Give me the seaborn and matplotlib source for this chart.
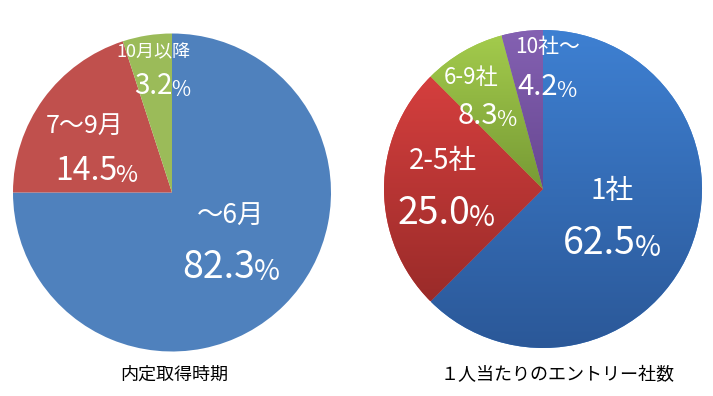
import numpy as np
import matplotlib
matplotlib.use("Agg")
import matplotlib.pyplot as plt
import seaborn as sns
from matplotlib.colors import LinearSegmentedColormap

# Daten: linkes Diagramm (Zeitpunkt der Zusage)
left_cats = ["～6月", "7～9月", "10月以降"]
left_sizes = [75, 20, 5]          # Segmentgrößen wie im Bild gezeichnet
left_pct = ["82.3", "14.5", "3.2"]
left_title = "内定取得時期"

# Daten: rechtes Diagramm (Bewerbungen pro Person)
right_cats = ["1社", "2-5社", "6-9社", "10社～"]
right_sizes = [62.5, 25.0, 8.3, 4.2]
right_pct = ["62.5", "25.0", "8.3", "4.2"]
right_title = "１人当たりのエントリー社数"

# Farben
left_colors = ["#4f81bd", "#c0504d", "#9bbb59"]
right_top = ["#3e80d2", "#d53f3e", "#a3cb4c", "#8461b2"]
right_bottom = ["#2b5898", "#9a2b29", "#779a35", "#674791"]

sns.set_theme(style="white")
plt.rcParams["font.family"] = ["Noto Sans CJK JP", "DejaVu Sans"]

W, H = 713, 396
R_PX = 159
LIM = 1.02

fig = plt.figure(figsize=(W / 100, H / 100), dpi=100)
fig.patch.set_facecolor("white")


def pie_axes(cx, cy):
    size = 2 * LIM * R_PX
    return fig.add_axes([(cx - size / 2) / W, (H - cy - size / 2) / H, size / W, size / H])


def to_data(px, py, cx, cy):
    return (px - cx) / R_PX, (cy - py) / R_PX


def put_labels(ax, cats, pcts, positions, cx, cy):
    # positions: (Kategorie-Mitte, rechte Kante der Zahl, Größe Kat, Größe Zahl)
    for cat, pct, (cpos, ppos, cs, ps) in zip(cats, pcts, positions):
        ax.text(*to_data(*cpos, cx, cy), cat, color="white", fontsize=cs,
                ha="center", va="center", zorder=5)
        t = ax.text(*to_data(*ppos, cx, cy), pct, color="white", fontsize=ps,
                    ha="right", va="center", zorder=5)
        ax.annotate("%", xy=(1.0, 0.0), xycoords=t, xytext=(-1, 0),
                    textcoords="offset points", color="white", fontsize=ps * 0.75,
                    ha="left", va="bottom", zorder=5)


# Linker Kreis
lcx, lcy = 172, 192.5
axL = pie_axes(lcx, lcy)
axL.pie(left_sizes, colors=left_colors, startangle=90, counterclock=False,
        wedgeprops=dict(linewidth=0))
axL.set_xlim(-LIM, LIM)
axL.set_ylim(-LIM, LIM)

left_label_pos = [((231, 216), (255, 267), 19, 27),
                  ((85, 126), (117, 171), 18, 23),
                  ((153, 52), (173, 86), 13, 20)]
put_labels(axL, left_cats, left_pct, left_label_pos, lcx, lcy)

# Rechter Kreis mit Verlauf
rcx, rcy = 543, 189
axR = pie_axes(rcx, rcy)
wedges, _ = axR.pie(right_sizes, colors=right_top, startangle=90, counterclock=False,
                    wedgeprops=dict(linewidth=0))

grad = np.linspace(0, 1, 256).reshape(-1, 1)
for w, top, bot in zip(wedges, right_top, right_bottom):
    ext = w.get_path().get_extents()
    cmap = LinearSegmentedColormap.from_list("g", [top, bot])
    im = axR.imshow(grad, cmap=cmap, aspect="auto",
                    extent=[ext.x0, ext.x1, ext.y0, ext.y1], origin="upper",
                    zorder=w.get_zorder() + 0.1)
    im.set_clip_path(w)
axR.set_xlim(-LIM, LIM)
axR.set_ylim(-LIM, LIM)

right_label_pos = [((612, 191), (636, 244), 20, 27),
                   ((443, 161), (470, 213), 20, 27),
                   ((471, 77), (498, 116), 16, 21),
                   ((548, 47), (558, 87), 15, 21)]
put_labels(axR, right_cats, right_pct, right_label_pos, rcx, rcy)

# Titel unter den Kreisen
fig.text(174 / W, 1 - 375 / H, left_title, fontsize=13, ha="center", va="center", color="black")
fig.text(558 / W, 1 - 375 / H, right_title, fontsize=13, ha="center", va="center", color="black")

fig.savefig("out.png", dpi=100, facecolor="white")
